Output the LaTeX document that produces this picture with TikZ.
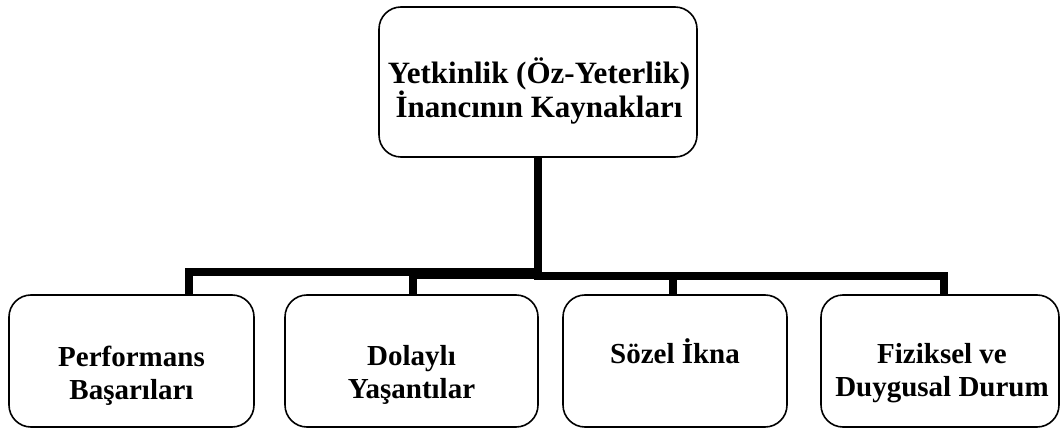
\documentclass[tikz,border=0pt]{standalone}
\usepackage{fontspec}
\setmainfont{Liberation Serif}
\begin{document}
\begin{tikzpicture}[x=1pt,y=-1pt,
  box/.style={draw, line width=1.6pt, rounded corners=22pt, inner sep=0pt, minimum height=132pt},
  lbl/.style={font=\bfseries\fontsize{29}{33}\selectfont, align=center, inner sep=0pt, anchor=north},
  conn/.style={line width=8pt}]
\useasboundingbox (0,0) rectangle (1062,430);
% boxes
\node[box, minimum width=318pt, minimum height=150pt] (top) at (538,82) {};
\node[box, minimum width=245pt] (b1) at (131.5,361) {};
\node[box, minimum width=253pt] (b2) at (411.5,361) {};
\node[box, minimum width=224pt] (b3) at (675,361) {};
\node[box, minimum width=238pt] (b4) at (940,361) {};
% labels
\node[lbl, font=\bfseries\fontsize{31}{33}\selectfont] (ttop) at (539,55) {\rule{0pt}{28pt}Yetkinlik (Öz-Yeterlik)\\İnancının Kaynakları};
\node[lbl] (t1) at (131.5,338) {\rule{0pt}{28pt}Performans\\Başarıları};
\node[lbl] (t2) at (411.5,337) {\rule{0pt}{28pt}Dolaylı\\Yaşantılar};
\node[lbl] (t3) at (675,335) {\rule{0pt}{28pt}Sözel İkna};
\node[lbl] (t4) at (942,335) {\rule{0pt}{28pt}Fiziksel ve\\Duygusal Durum};
% connectors
\draw[conn] (top.south) -- ++(0,114) -| ([xshift=57.5pt]b1.north);
\draw[conn] (top.south) -- ++(0,117) -| ([xshift=1.5pt]b2.north);
\draw[conn] (top.south) -- ++(0,118) -| ([xshift=-2pt]b3.north);
\draw[conn] (top.south) -- ++(0,118) -| ([xshift=4pt]b4.north);
\end{tikzpicture}
\end{document}
